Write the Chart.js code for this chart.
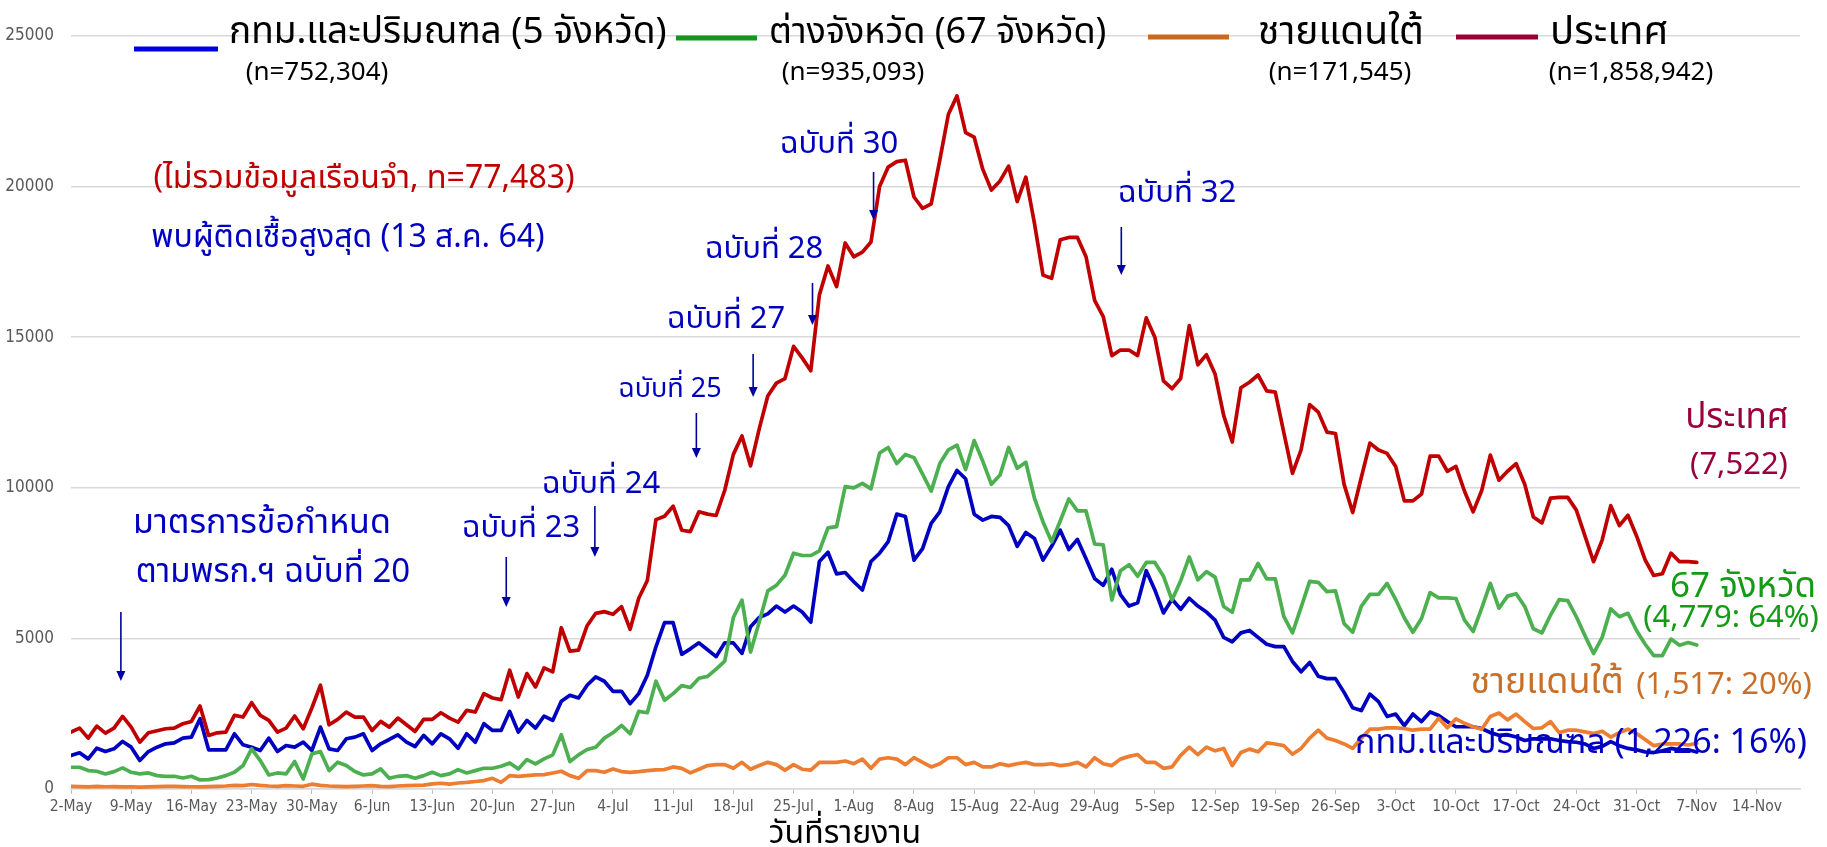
<!DOCTYPE html>
<html>
<head>
<meta charset="utf-8">
<script src="https://cdn.jsdelivr.net/npm/chart.js@4.4.1/dist/chart.umd.min.js"></script>
<style>
  body { margin: 0; background: #fff; }
  #wrap { width: 1827px; height: 847px; }
</style>
</head>
<body>
<div id="wrap"><canvas id="myChart" width="1827" height="847"></canvas></div>
<script>
// ป้ายแกน X รายสัปดาห์ (ทุก 7 วัน เริ่ม 2-May)
const weekLabels = ["2-May", "9-May", "16-May", "23-May", "30-May", "6-Jun", "13-Jun", "20-Jun", "27-Jun",
  "4-Jul", "11-Jul", "18-Jul", "25-Jul", "1-Aug", "8-Aug", "15-Aug", "22-Aug", "29-Aug", "5-Sep",
  "12-Sep", "19-Sep", "26-Sep", "3-Oct", "10-Oct", "17-Oct", "24-Oct", "31-Oct", "7-Nov", "14-Nov"];
const yTicks = [0, 5000, 10000, 15000, 20000, 25000];

// ผู้ป่วยรายวัน 2-May ถึง 7-Nov (190 วัน)
const bkk = [
  1111, 1200, 1000, 1355, 1244, 1333, 1578, 1389, 944, 1244,
  1389, 1500, 1533, 1689, 1722, 2333, 1300, 1300, 1300, 1833,
  1467, 1389, 1278, 1689, 1244, 1444, 1389, 1555, 1278, 2055,
  1333, 1278, 1667, 1722, 1833, 1278, 1500, 1644, 1800, 1555,
  1411, 1778, 1500, 1833, 1667, 1355, 1833, 1555, 2166, 1944,
  1944, 2578, 1889, 2278, 2022, 2422, 2278, 2911, 3111, 3022,
  3444, 3722, 3578, 3244, 3244, 2833, 3166, 3778, 4722, 5522,
  5522, 4471, 4654, 4853, 4624, 4395, 4853, 4853, 4502, 5387,
  5692, 5814, 6073, 5875, 6073, 5875, 5539, 7554, 7859, 7142,
  7187, 6882, 6608, 7554, 7828, 8210, 9125, 9049, 7599, 7981,
  8820, 9202, 10041, 10575, 10300, 9125, 8927, 9049, 9019, 8744,
  8057, 8515, 8317, 7599, 8057, 8591, 7950, 8286, 7645, 6989,
  6760, 7294, 6455, 6073, 6180, 7248, 6608, 5845, 6302, 5967,
  6333, 6073, 5875, 5605, 5034, 4886, 5183, 5263, 5034, 4806,
  4726, 4726, 4235, 3893, 4201, 3744, 3665, 3665, 3208, 2694,
  2603, 3151, 2900, 2409, 2489, 2101, 2489, 2238, 2557, 2443,
  2238, 2066, 2066, 2066, 2009, 1872, 1781, 1804, 1724, 1610,
  1667, 1667, 1667, 1610, 1575, 1553, 1495, 1347, 1416, 1575,
  1438, 1347, 1301, 1233, 1210, 1267, 1347, 1301, 1301, 1226
];
const provinces = [
  722, 722, 611, 589, 500, 578, 700, 555, 500, 533,
  444, 422, 422, 367, 422, 300, 311, 367, 444, 555,
  778, 1333, 944, 467, 533, 500, 911, 333, 1166, 1244,
  611, 889, 778, 578, 467, 500, 667, 355, 422, 444,
  355, 444, 555, 444, 500, 644, 533, 611, 689, 689,
  755, 866, 667, 978, 833, 1000, 1133, 1800, 911, 1133,
  1311, 1389, 1689, 1866, 2111, 1833, 2578, 2533, 3578, 2944,
  3166, 3434, 3372, 3678, 3739, 3983, 4242, 5692, 6272, 4547,
  5539, 6577, 6760, 7096, 7828, 7752, 7752, 7905, 8668, 8713,
  10041, 9995, 10148, 9965, 11155, 11338, 10804, 11109, 11002, 10453,
  9888, 10804, 11262, 11414, 10606, 11567, 10880, 10117, 10422, 11338,
  10651, 10850, 9660, 8866, 8210, 8897, 9629, 9232, 9232, 8134,
  8103, 6272, 7248, 7447, 7065, 7523, 7523, 7065, 6272, 6913,
  7706, 6943, 7218, 7035, 6062, 5868, 6941, 6941, 7489, 6975,
  6975, 5719, 5183, 6028, 6895, 6861, 6553, 6576, 5491, 5206,
  6062, 6461, 6461, 6827, 6290, 5685, 5206, 5662, 6519, 6347,
  6347, 6324, 5605, 5229, 6005, 6827, 6005, 6404, 6484, 6062,
  5320, 5183, 5776, 6290, 6256, 5719, 5092, 4498, 5034, 5982,
  5719, 5834, 5263, 4806, 4429, 4429, 4977, 4772, 4863, 4779
];
const south = [
  90, 80, 70, 85, 75, 80, 70, 75, 65, 70,
  80, 90, 85, 80, 75, 70, 80, 90, 100, 120,
  110, 150, 120, 100, 90, 110, 100, 90, 160, 120,
  100, 90, 80, 90, 100, 110, 90, 80, 100, 110,
  120, 130, 170, 190, 160, 200, 220, 250, 280, 355,
  220, 444, 422, 444, 467, 478, 533, 589, 444, 355,
  611, 611, 555, 667, 578, 555, 578, 611, 633, 644,
  732, 687, 534, 656, 778, 809, 809, 687, 885, 656,
  778, 885, 809, 626, 809, 656, 626, 885, 885, 885,
  931, 839, 992, 687, 992, 1038, 992, 809, 1038, 885,
  732, 839, 1038, 1038, 809, 885, 732, 732, 839, 778,
  839, 885, 809, 809, 839, 778, 809, 885, 732, 1038,
  839, 778, 992, 1083, 1144, 885, 885, 687, 732, 1114,
  1389, 1144, 1389, 1267, 1347, 776, 1210, 1324, 1233, 1530,
  1495, 1438, 1153, 1347, 1690, 1952, 1690, 1610, 1495, 1347,
  1690, 1986, 1986, 2032, 2032, 2009, 1952, 1986, 1986, 2352,
  2032, 2329, 2180, 2066, 1986, 2409, 2523, 2295, 2489, 2238,
  2009, 2032, 2238, 1872, 1952, 1952, 1895, 1838, 1918, 1724,
  1872, 1986, 1838, 1644, 1438, 1495, 1495, 1495, 1461, 1517
];
const country = [
  1889, 2022, 1689, 2089, 1855, 2022, 2411, 2055, 1555, 1866,
  1933, 2000, 2022, 2166, 2244, 2755, 1777, 1866, 1889, 2444,
  2389, 2866, 2444, 2278, 1889, 2022, 2422, 2000, 2689, 3444,
  2133, 2311, 2555, 2389, 2389, 1944, 2244, 2055, 2355, 2133,
  1911, 2311, 2311, 2533, 2355, 2222, 2611, 2555, 3166, 3022,
  2966, 3944, 3055, 3833, 3389, 4022, 3889, 5355, 4578, 4611,
  5422, 5833, 5889, 5800, 6055, 5300, 6333, 6922, 8944, 9055,
  9389, 8591, 8546, 9202, 9125, 9080, 9919, 11109, 11720, 10728,
  11949, 13048, 13475, 13627, 14695, 14314, 13887, 16405, 17366, 16679,
  18129, 17671, 17824, 18160, 20006, 20647, 20830, 20876, 19655, 19274,
  19427, 20876, 22402, 23013, 21792, 21639, 20571, 19884, 20189, 20678,
  19503, 20312, 18786, 17061, 16954, 18236, 18312, 18312, 17671, 16221,
  15687, 14390, 14573, 14573, 14390, 15641, 15000, 13551, 13291, 13627,
  15382, 14085, 14421, 13780, 12406, 11521, 13322, 13505, 13745, 13220,
  13174, 11827, 10480, 11256, 12763, 12512, 11850, 11804, 10115, 9178,
  10343, 11484, 11256, 11142, 10708, 9567, 9567, 9795, 11051, 11051,
  10549, 10708, 9886, 9201, 9909, 11085, 10252, 10549, 10800, 10115,
  9030, 8836, 9658, 9681, 9681, 9258, 8402, 7546, 8265, 9407,
  8745, 9087, 8402, 7603, 7089, 7146, 7831, 7546, 7546, 7522
];

const thaiFont = "'Noto Sans Thai', Tahoma, 'Leelawadee UI', 'Noto Sans', sans-serif";
const axisFont = "'Liberation Sans Narrow', 'DejaVu Sans Condensed', sans-serif";
const toXY = (arr) => arr.map((v, i) => ({ x: i, y: v }));

// ลูกศรชี้วันที่ประกาศข้อกำหนด (วันที่นับจาก 2-May, พิกัด y บน/ล่าง)
const arrows = [
  { day: 5.8, y1: 612, y2: 681 },
  { day: 50.6, y1: 557, y2: 607 },
  { day: 60.9, y1: 506, y2: 557 },
  { day: 72.7, y1: 413, y2: 458 },
  { day: 79.3, y1: 354, y2: 397 },
  { day: 86.2, y1: 283, y2: 325 },
  { day: 93.3, y1: 172, y2: 220 },
  { day: 122.1, y1: 227, y2: 275 },
];

const notes = [
  // ข้อความในกราฟ
  { t: "(ไม่รวมข้อมูลเรือนจำ, n=77,483)", x: 364, y: 182, s: 32, c: "#C00000" },
  { t: "พบผู้ติดเชื้อสูงสุด (13 ส.ค. 64)", x: 348, y: 241, s: 32, c: "#0000C0" },
  { t: "มาตรการข้อกำหนด", x: 262, y: 526, s: 34, c: "#0000C0" },
  { t: "ตามพรก.ฯ ฉบับที่ 20", x: 273, y: 575, s: 33, c: "#0000C0" },
  { t: "ฉบับที่ 23", x: 521, y: 531, s: 31, c: "#0000C0" },
  { t: "ฉบับที่ 24", x: 601, y: 487, s: 31, c: "#0000C0" },
  { t: "ฉบับที่ 25", x: 670, y: 392, s: 27, c: "#0000C0" },
  { t: "ฉบับที่ 27", x: 726, y: 322, s: 31, c: "#0000C0" },
  { t: "ฉบับที่ 28", x: 764, y: 252, s: 31, c: "#0000C0" },
  { t: "ฉบับที่ 30", x: 839, y: 147, s: 31, c: "#0000C0" },
  { t: "ฉบับที่ 32", x: 1177, y: 196, s: 31, c: "#0000C0" },
  { t: "ประเทศ", x: 1737, y: 421, s: 35, c: "#99003D" },
  { t: "(7,522)", x: 1739, y: 468, s: 31, c: "#99003D" },
  { t: "67 จังหวัด", x: 1743, y: 590, s: 35, c: "#159A15" },
  { t: "(4,779: 64%)", x: 1731, y: 621, s: 31, c: "#159A15" },
  { t: "ชายแดนใต้", x: 1547, y: 686, s: 36, c: "#C8702A" },
  { t: "(1,517: 20%)", x: 1724, y: 688, s: 31, c: "#C8702A" },
  { t: "กทม.และปริมณฑล (1,226: 16%)", x: 1581, y: 746, s: 34, c: "#0000C0" },
  // ส่วน legend
  { t: "(n=752,304)", x: 317, y: 75, s: 26, c: "#000" },
  { t: "(n=935,093)", x: 853, y: 75, s: 26, c: "#000" },
  { t: "(n=171,545)", x: 1340, y: 75, s: 26, c: "#000" },
  { t: "(n=1,858,942)", x: 1631, y: 75, s: 26, c: "#000" },
  { t: "วันที่รายงาน", x: 845, y: 837, s: 32, c: "#000" },
];

const legendItems = [
  { t: "กทม.และปริมณฑล (5 จังหวัด)", x1: 134, x2: 218, ly: 49, tx: 229, s: 37, c: "#0000E0" },
  { t: "ต่างจังหวัด (67 จังหวัด)", x1: 676, x2: 757, ly: 38, tx: 769, s: 36, c: "#14961E" },
  { t: "ชายแดนใต้", x1: 1148, x2: 1229, ly: 37, tx: 1258, s: 39, c: "#C8691E" },
  { t: "ประเทศ", x1: 1456, x2: 1538, ly: 37, tx: 1550, s: 40, c: "#990033" },
];

const annotPlugin = {
  id: "annot",
  afterDatasetsDraw(chart) {
    const ctx = chart.ctx;
    const xs = chart.scales.x;
    ctx.save();
    // ลูกศร
    ctx.strokeStyle = "#0000A0";
    ctx.fillStyle = "#0000A0";
    ctx.lineWidth = 1.6;
    arrows.forEach((a) => {
      const px = xs.getPixelForValue(a.day);
      ctx.beginPath();
      ctx.moveTo(px, a.y1);
      ctx.lineTo(px, a.y2 - 8);
      ctx.stroke();
      ctx.beginPath();
      ctx.moveTo(px - 4.5, a.y2 - 10);
      ctx.lineTo(px + 4.5, a.y2 - 10);
      ctx.lineTo(px, a.y2);
      ctx.closePath();
      ctx.fill();
    });
    // legend
    legendItems.forEach((l) => {
      ctx.strokeStyle = l.c;
      ctx.lineWidth = 5;
      ctx.beginPath();
      ctx.moveTo(l.x1, l.ly);
      ctx.lineTo(l.x2, l.ly);
      ctx.stroke();
      ctx.fillStyle = "#000";
      ctx.font = l.s + "px " + thaiFont;
      ctx.textAlign = "left";
      ctx.textBaseline = "middle";
      ctx.fillText(l.t, l.tx, 36);
    });
    // ข้อความ
    ctx.textAlign = "center";
    ctx.textBaseline = "middle";
    notes.forEach((n) => {
      ctx.fillStyle = n.c;
      ctx.font = n.s + "px " + thaiFont;
      ctx.fillText(n.t, n.x, n.y);
    });
    ctx.restore();
  },
};

const ctx = document.getElementById("myChart").getContext("2d");
const myChart = new Chart(ctx, {
  type: "line",
  data: {
    datasets: [
      { label: "กทม.และปริมณฑล", data: toXY(bkk), borderColor: "#0000C0", order: 3 },
      { label: "ต่างจังหวัด", data: toXY(provinces), borderColor: "#4CB050", order: 2 },
      { label: "ชายแดนใต้", data: toXY(south), borderColor: "#ED7D31", order: 1 },
      { label: "ประเทศ", data: toXY(country), borderColor: "#C00000", order: 0 },
    ],
  },
  options: {
    responsive: false,
    animation: false,
    layout: { padding: { left: 0, right: 27, top: 36, bottom: 0 } },
    elements: {
      point: { radius: 0 },
      line: { borderWidth: 3.7, tension: 0, borderJoinStyle: "round", borderCapStyle: "round" },
    },
    plugins: {
      legend: { display: false },
      tooltip: { enabled: false },
    },
    scales: {
      x: {
        type: "linear",
        min: 0,
        max: 201,
        afterFit: (s) => { s.height = 58; },
        afterBuildTicks: (s) => { s.ticks = weekLabels.map((_, i) => ({ value: i * 7 })); },
        ticks: {
          autoSkip: false,
          maxRotation: 0,
          padding: 4,
          color: "#595959",
          font: { family: axisFont, size: 15.5 },
          callback: (v) => weekLabels[Math.round(v / 7)],
        },
        grid: { drawOnChartArea: false, drawTicks: true, tickLength: 5, color: "#BFBFBF" },
        border: { color: "#D9D9D9", width: 1.5 },
      },
      y: {
        min: 0,
        max: 25000,
        afterFit: (s) => { s.width = 71; },
        afterBuildTicks: (s) => { s.ticks = yTicks.map((v) => ({ value: v })); },
        ticks: {
          padding: 17,
          color: "#595959",
          font: { family: axisFont, size: 17 },
          callback: (v) => String(v),
        },
        grid: { color: "#D9D9D9", lineWidth: 1.5, drawTicks: false },
        border: { display: false },
      },
    },
  },
  plugins: [annotPlugin],
});
</script>
</body>
</html>
